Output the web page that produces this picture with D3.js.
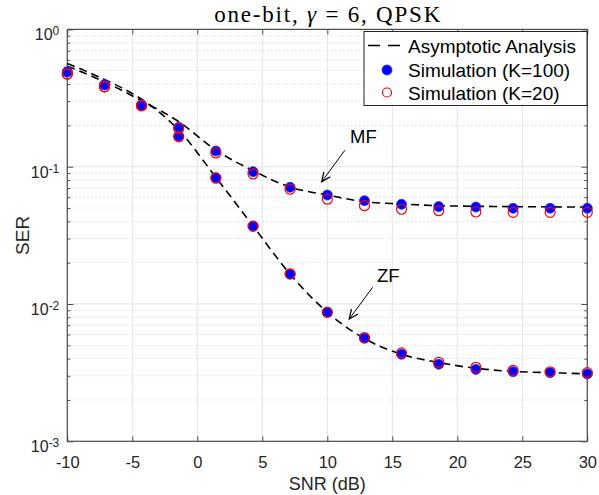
<!DOCTYPE html>
<html>
<head>
<meta charset="utf-8">
<script src="https://cdn.jsdelivr.net/npm/d3@7"></script>
<style>
  body { margin: 0; background: #fff; }
</style>
</head>
<body>
<div id="chart"></div>
<script>
// SNR points (dB)
var snr = [-10, -7.14, -4.29, -1.43, 1.43, 4.29, 7.14, 10, 12.86, 15.71, 18.57, 21.43, 24.29, 27.14, 30];

// asymptotic analysis
var mfAnalysis = [0.54, 0.415, 0.302, 0.213, 0.132, 0.0935, 0.071, 0.0622, 0.0556, 0.0535, 0.052, 0.0515, 0.0512, 0.051, 0.0508];
var zfAnalysis = [0.565, 0.432, 0.31, 0.185, 0.0837, 0.037, 0.0165, 0.0087, 0.0056, 0.0043, 0.00375, 0.0034, 0.00323, 0.00316, 0.0031];

// simulation K=100
var mfK100 = [0.49, 0.394, 0.281, 0.194, 0.130, 0.092, 0.0708, 0.0622, 0.0565, 0.0532, 0.0512, 0.0508, 0.0498, 0.0498, 0.0498];
var zfK100 = [0.49, 0.394, 0.281, 0.167, 0.0832, 0.037, 0.0165, 0.0087, 0.00562, 0.0043, 0.00364, 0.00334, 0.00321, 0.00316, 0.00309];

// simulation K=20
var mfK20 = [0.473, 0.382, 0.278, 0.19, 0.126, 0.0886, 0.0685, 0.058, 0.052, 0.049, 0.0478, 0.0468, 0.0465, 0.0465, 0.0465];
var zfK20 = [0.473, 0.382, 0.278, 0.165, 0.0825, 0.0368, 0.0166, 0.0087, 0.0057, 0.0044, 0.00376, 0.00346, 0.00329, 0.00321, 0.00316];

var xTicks = [-10, -5, 0, 5, 10, 15, 20, 25, 30];
var xTickLabels = ["-10", "-5", "0", "5", "10", "15", "20", "25", "30"];
var yDecades = [1e-3, 1e-2, 1e-1, 1];
var yExponents = ["-3", "-2", "-1", "0"];

var legendLabels = ["Asymptotic Analysis", "Simulation (K=100)", "Simulation (K=20)"];

// annotations: [label, textX, textY, tailX, tailY, tipX, tipY]
var notes = [
    ["MF", 11.75, 0.148, 11.36, 0.132, 9.57, 0.0778],
    ["ZF", 13.82, 0.01454, 13.49, 0.01323, 11.69, 0.00778]
];

var sans = "Liberation Sans, Arial, Helvetica, sans-serif";
var serif = "Liberation Serif, Times New Roman, serif";

var pLeft = 67.3, pRight = 587.3, pTop = 29.4, pBottom = 441.3;

var svg = d3.select("#chart")
    .append("svg")
    .attr("width", 599)
    .attr("height", 495)
    .style("font-family", sans);

var x = d3.scaleLinear().domain([-10, 30]).range([pLeft, pRight]);
var y = d3.scaleLog().domain([1e-3, 1]).range([pBottom, pTop]);

// minor y values
var yMinor = [];
yDecades.slice(0, 3).forEach(function(d){
    for (var k = 2; k <= 9; k++) yMinor.push(d * k);
});

// grid
var grid = svg.append("g");
grid.selectAll(".minor")
    .data(yMinor)
    .enter().append("line")
    .attr("x1", pLeft).attr("x2", pRight)
    .attr("y1", function(d){ return y(d); })
    .attr("y2", function(d){ return y(d); })
    .attr("stroke", "#c8c8c8")
    .attr("stroke-width", 1)
    .attr("stroke-dasharray", "1,3");

grid.selectAll(".vx")
    .data(xTicks)
    .enter().append("line")
    .attr("x1", function(d){ return x(d); })
    .attr("x2", function(d){ return x(d); })
    .attr("y1", pTop).attr("y2", pBottom)
    .attr("stroke", "#e3e3e3")
    .attr("stroke-width", 1);

grid.selectAll(".hy")
    .data(yDecades)
    .enter().append("line")
    .attr("x1", pLeft).attr("x2", pRight)
    .attr("y1", function(d){ return y(d); })
    .attr("y2", function(d){ return y(d); })
    .attr("stroke", "#e3e3e3")
    .attr("stroke-width", 1);

// axes (ticks inside, box on)
var axisColor = "#4d4d4d";

function styleAxis(g){
    g.select(".domain").remove();
    g.selectAll("line").attr("stroke", axisColor);
}

svg.append("g")
    .attr("transform", "translate(0," + pBottom + ")")
    .call(d3.axisBottom(x).tickValues(xTicks).tickSize(-5).tickPadding(15)
        .tickFormat(function(d, i){ return xTickLabels[i]; }))
    .call(styleAxis)
    .call(function(g){
        g.selectAll("text").attr("font-size", 16.5).attr("fill", "#262626")
            .attr("font-family", sans);
    });

svg.append("g")
    .attr("transform", "translate(0," + pTop + ")")
    .call(d3.axisTop(x).tickValues(xTicks).tickSize(-5).tickFormat(""))
    .call(styleAxis);

svg.append("g")
    .attr("transform", "translate(" + pLeft + ",0)")
    .call(d3.axisLeft(y).tickValues(yDecades).tickSize(-6).tickFormat(""))
    .call(styleAxis);
svg.append("g")
    .attr("transform", "translate(" + pLeft + ",0)")
    .call(d3.axisLeft(y).tickValues(yMinor).tickSize(-3).tickFormat(""))
    .call(styleAxis);
svg.append("g")
    .attr("transform", "translate(" + pRight + ",0)")
    .call(d3.axisRight(y).tickValues(yDecades).tickSize(-6).tickFormat(""))
    .call(styleAxis);
svg.append("g")
    .attr("transform", "translate(" + pRight + ",0)")
    .call(d3.axisRight(y).tickValues(yMinor).tickSize(-3).tickFormat(""))
    .call(styleAxis);

// y tick labels 10^n
yDecades.forEach(function(d, i){
    var t = svg.append("text")
        .attr("x", pLeft - 8)
        .attr("y", y(d) + 11)
        .attr("text-anchor", "end")
        .attr("fill", "#262626")
        .attr("font-size", 16);
    t.append("tspan").text("10");
    t.append("tspan").attr("font-size", 12).attr("dy", -5).text(yExponents[i]);
});

// frame
svg.append("rect")
    .attr("x", pLeft).attr("y", pTop)
    .attr("width", pRight - pLeft).attr("height", pBottom - pTop)
    .attr("fill", "none")
    .attr("stroke", axisColor)
    .attr("stroke-width", 1.2);

// analysis curves
var line = d3.line()
    .x(function(d, i){ return x(snr[i]); })
    .y(function(d){ return y(d); })
    .curve(d3.curveMonotoneX);

[mfAnalysis, zfAnalysis].forEach(function(s){
    svg.append("path")
        .datum(s)
        .attr("d", line)
        .attr("fill", "none")
        .attr("stroke", "#000")
        .attr("stroke-width", 1.6)
        .attr("stroke-dasharray", "8,5");
});

// simulation markers
[mfK100, zfK100].forEach(function(s){
    svg.append("g").selectAll("circle")
        .data(s)
        .enter().append("circle")
        .attr("cx", function(d, i){ return x(snr[i]); })
        .attr("cy", function(d){ return y(d); })
        .attr("r", 5)
        .attr("fill", "#0000ff")
        .attr("stroke", "#3333dd")
        .attr("stroke-width", 0.8);
});
[mfK20, zfK20].forEach(function(s){
    svg.append("g").selectAll("circle")
        .data(s)
        .enter().append("circle")
        .attr("cx", function(d, i){ return x(snr[i]); })
        .attr("cy", function(d){ return y(d); })
        .attr("r", 5)
        .attr("fill", "none")
        .attr("stroke", "#ff0000")
        .attr("stroke-width", 1.2);
});

// annotations with arrows
notes.forEach(function(n){
    svg.append("text")
        .attr("x", x(n[1])).attr("y", y(n[2]))
        .attr("font-size", 18.5)
        .attr("fill", "#000")
        .text(n[0]);
    var x0 = x(n[3]), y0 = y(n[4]), x1 = x(n[5]), y1 = y(n[6]);
    svg.append("line")
        .attr("x1", x0).attr("y1", y0).attr("x2", x1).attr("y2", y1)
        .attr("stroke", "#000").attr("stroke-width", 1);
    var a = Math.atan2(y1 - y0, x1 - x0), L = 10, w = 0.42;
    var p = [
        [x1 - L * Math.cos(a - w), y1 - L * Math.sin(a - w)],
        [x1, y1],
        [x1 - L * Math.cos(a + w), y1 - L * Math.sin(a + w)]
    ];
    svg.append("path")
        .attr("d", "M" + p.map(function(q){ return q.join(","); }).join("L"))
        .attr("fill", "none")
        .attr("stroke", "#000")
        .attr("stroke-width", 1.3);
});

// axis labels
svg.append("text")
    .attr("x", (pLeft + pRight) / 2).attr("y", 490)
    .attr("text-anchor", "middle")
    .attr("font-size", 18)
    .attr("fill", "#262626")
    .text("SNR (dB)");

svg.append("text")
    .attr("transform", "translate(29," + (pTop + pBottom) / 2 + ") rotate(-90)")
    .attr("text-anchor", "middle")
    .attr("font-size", 19)
    .attr("fill", "#262626")
    .text("SER");

// title
var title = svg.append("text")
    .attr("x", (pLeft + pRight) / 2).attr("y", 22)
    .attr("text-anchor", "middle")
    .attr("textLength", 226)
    .attr("lengthAdjust", "spacing")
    .style("font-family", serif)
    .attr("font-size", 23)
    .attr("fill", "#000");
title.append("tspan").text("one-bit, ");
title.append("tspan").attr("font-style", "italic").text("γ");
title.append("tspan").text(" = 6, QPSK");

// legend
var lg = svg.append("g");
lg.append("rect")
    .attr("x", 364).attr("y", 31.5)
    .attr("width", 223).attr("height", 74)
    .attr("fill", "#fff")
    .attr("stroke", "#262626")
    .attr("stroke-width", 1);

var rowY = [45.5, 70, 92.5];
lg.append("line")
    .attr("x1", 368).attr("x2", 400)
    .attr("y1", rowY[0]).attr("y2", rowY[0])
    .attr("stroke", "#000").attr("stroke-width", 1.6)
    .attr("stroke-dasharray", "12,8");
lg.append("circle")
    .attr("cx", 387).attr("cy", rowY[1]).attr("r", 5)
    .attr("fill", "#0000ff").attr("stroke", "#3333dd").attr("stroke-width", 0.8);
lg.append("circle")
    .attr("cx", 387).attr("cy", rowY[2]).attr("r", 4.5)
    .attr("fill", "none").attr("stroke", "#ff0000").attr("stroke-width", 1.2);

lg.selectAll(".lt")
    .data(legendLabels)
    .enter().append("text")
    .attr("x", 408)
    .attr("y", function(d, i){ return rowY[i] + 7; })
    .attr("font-size", 19)
    .attr("fill", "#000")
    .text(function(d){ return d; });
</script>
</body>
</html>
